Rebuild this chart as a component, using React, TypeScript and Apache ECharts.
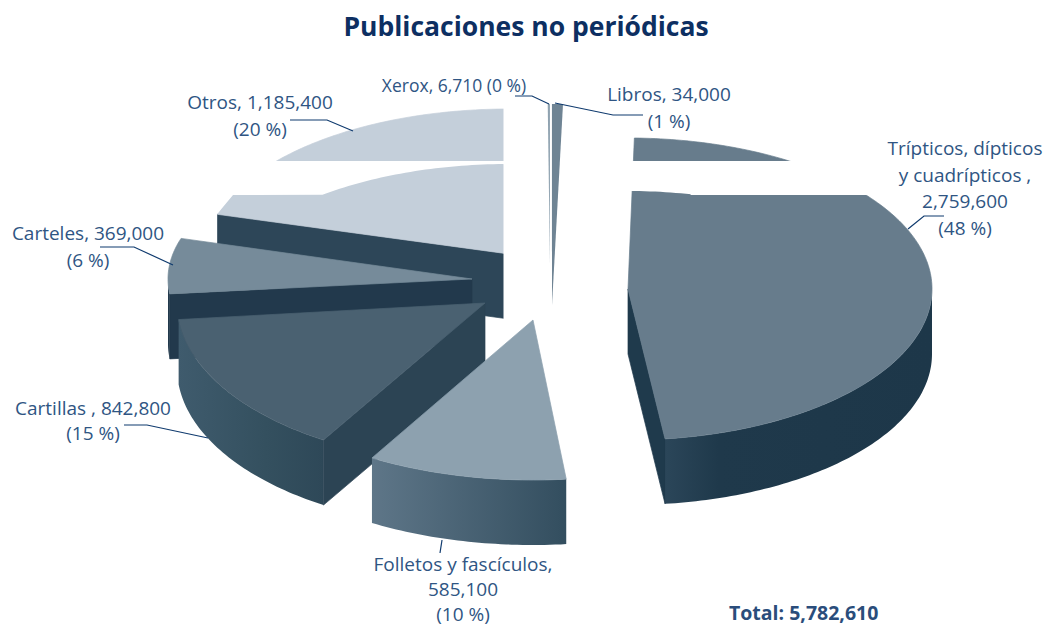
import React, { useEffect, useRef } from "react";
import * as echarts from "echarts";

// ---- Data ----
const categories = ["Trípticos, dípticos y cuadrípticos", "Folletos y fascículos", "Cartillas", "Carteles", "Otros", "Xerox", "Libros"];
const values = [2759600, 585100, 842800, 369000, 1185400, 6710, 34000];
const labelTexts = [
  "Trípticos, dípticos\ny cuadrípticos ,\n2,759,600\n(48 %)",
  "Folletos y fascículos,\n585,100\n(10 %)",
  "Cartillas , 842,800\n(15 %)",
  "Carteles, 369,000\n(6 %)",
  "Otros, 1,185,400\n(20 %)",
  "Xerox, 6,710 (0 %)",
  "Libros, 34,000\n(1 %)",
];
const titleText = "Publicaciones no periódicas";
const totalText = "Total: 5,782,610";

// ---- Layout and style, by category index ----
const START_ANGLE = 1.2;
const DEPTH = 65;
const NAVY = "#0f3a6e";
const LABEL = "#2f5583";
const FONT = "Open Sans";
type Stop = { offset: number; color: string };
type G = string | { type: string; x: number; y: number; x2: number; y2: number; colorStops: Stop[] };
const grad = (...colors: [number, string][]): G => ({
  type: "linear", x: 0, y: 0, x2: 1, y2: 0,
  colorStops: colors.map(([offset, color]) => ({ offset, color })),
});
const layout = [
  { cx: 628, cy: 289, rx: 304, ry: 151, spin: 0, sliver: false, top: "#677c8c", radial: "#1f3a4c", arc: grad([0, "#2b4659"], [0.2, "#1f394b"], [1, "#1d3749"]) },
  { cx: 533, cy: 320, rx: 318, ry: 160, spin: 1, sliver: false, top: "#8da1af", radial: "#334e5f", arc: grad([0, "#5e7688"], [1, "#334e5f"]) },
  { cx: 485, cy: 303, rx: 308, ry: 161, spin: 2.2, sliver: false, top: "#4a6171", radial: "#2c4454", arc: grad([0, "#3f5b6d"], [0.6, "#34505f"], [1, "#2e4858"]) },
  { cx: 472, cy: 279, rx: 304, ry: 140, spin: 2, sliver: false, top: "#768b9a", radial: "#22394c", arc: "#22394c" as G },
  { cx: 509, cy: 254, rx: 303, ry: 145, spin: 1, sliver: false, top: "#c4cfda", radial: "#2d4658", arc: "#2d4658" as G },
  { cx: 550, cy: 265, rx: 300, ry: 161, spin: 0.9, sliver: true, top: "#8fa2b0", radial: "#2d4658", arc: "#2d4658" as G },
  { cx: 552, cy: 305, rx: 300, ry: 201, spin: 0.9, sliver: true, top: "#6f8494", radial: "#3a5465", arc: "#3a5465" as G },
];
const drawOrder = [4, 5, 6, 3, 2, 0, 1];
const labelPos = [
  { x: 965, y: 135, size: 19, lh: 26.5 },
  { x: 463, y: 551, size: 19, lh: 25 },
  { x: 93, y: 395, size: 19, lh: 25.5 },
  { x: 88, y: 220, size: 19, lh: 26.5 },
  { x: 260, y: 89, size: 19, lh: 26.5 },
  { x: 454, y: 72, size: 17.5, lh: 26.5 },
  { x: 669, y: 81, size: 19, lh: 26.5 },
];
const leaders = [
  [[908, 229], [924, 216], [944, 216]],
  [[442, 540], [440, 553]],
  [[124, 425], [147, 425], [208, 438]],
  [[100, 247], [134, 247], [173, 265]],
  [[290, 120], [327, 120], [353, 131]],
  [[515, 96], [532, 96], [549, 104]],
  [[555, 103], [613, 115], [643, 115]],
];

const total = values.reduce((a, b) => a + b, 0);
const spans: [number, number][] = [];
{
  let a = START_ANGLE;
  for (const v of values) {
    const next = a + (v / total) * 360;
    spans.push([a, next]);
    a = next;
  }
}
const rim = (l: { cx: number; cy: number; rx: number; ry: number }, deg: number, dy = 0): [number, number] => {
  const r = (deg * Math.PI) / 180;
  return [l.cx + l.rx * Math.sin(r), l.cy - l.ry * Math.cos(r) + dy];
};
const arcPts = (l: any, a: number, b: number, dy = 0) => {
  const n = Math.max(2, Math.ceil(Math.abs(b - a)));
  const out: [number, number][] = [];
  for (let i = 0; i <= n; i++) out.push(rim(l, a + ((b - a) * i) / n, dy));
  return out;
};

const renderItem = (params: any, api: any) => {
  const idx = api.value(1) as number;
  const l = layout[idx];
  const a1 = spans[idx][0] + l.spin;
  const a2 = spans[idx][1] + l.spin;
  const children: any[] = [];
  const poly = (points: number[][], fill: G, stroke = "none") => ({
    type: "polygon",
    shape: { points },
    style: { fill, stroke, lineWidth: 0.7 },
  });
  if (!l.sliver) {
    // outer wall: only the part that faces the viewer
    const w1 = Math.max(a1, 90);
    const w2 = Math.min(a2, 270);
    if (w2 > w1) {
      const topEdge = arcPts(l, w1, w2);
      const bottomEdge = arcPts(l, w1, w2, DEPTH).reverse();
      children.push(poly([...topEdge, ...bottomEdge], l.arc));
    }
    const radial = (deg: number) => {
      const p = rim(l, deg);
      children.push(poly([[l.cx, l.cy], p, [p[0], p[1] + DEPTH], [l.cx, l.cy + DEPTH]], l.radial, l.radial));
    };
    if (a1 > 180 && a1 < 360) radial(a1);
    if (a2 > 0 && a2 < 180) radial(a2);
  }
  children.push(poly([[l.cx, l.cy], ...arcPts(l, a1, a2)], l.top, l.sliver ? "none" : l.top));
  return { type: "group", children };
};

// White gaps that cross the Otros and Trípticos slices
const otrosMask = (): number[][] => {
  const l = layout[4];
  const pts = arcPts(l, 322, 359, 55);
  return [[512, 161], [205, 161], [205, 216], [218, 213], [233, 195], ...pts, [504, 165], [512, 165]];
};
const tripticosMask = (): number[][] => {
  const l = layout[0];
  const pts = arcPts(l, 1.2, 12, 53).map(([x, y]) => [x, Math.min(y, 195)]);
  return [[620, 161], [880, 161], [880, 195], [690, 195], ...pts.reverse(), [620, 191]];
};

export default function App() {
  const ref = useRef<HTMLDivElement>(null);
  useEffect(() => {
    const chart = echarts.init(ref.current!, undefined, { renderer: "svg" });
    const white = "#ffffff";
    chart.setOption({
      animation: false,
      backgroundColor: white,
      title: {
        text: titleText,
        left: 521,
        top: 7,
        textAlign: "center",
        textStyle: { fontFamily: "Open Sans", fontWeight: "bold", fontSize: 26.5, color: "#0d2f62" },
      },
      series: [
        {
          type: "custom",
          coordinateSystem: "none",
          silent: true,
          z: 2,
          clip: false,
          data: drawOrder.map((i) => ({ name: categories[i], value: [values[i], i] })),
          encode: { value: 0 },
          renderItem,
        },
      ],
      graphic: {
        elements: [
          { type: "polygon", z: 10, silent: true, shape: { points: otrosMask() }, style: { fill: white } },
          { type: "polygon", z: 10, silent: true, shape: { points: tripticosMask() }, style: { fill: white } },
          { type: "rect", z: 10, silent: true, shape: { x: 503.5, y: 100, width: 9, height: 225 }, style: { fill: white } },
          ...leaders.map((points) => ({
            type: "polyline",
            z: 20,
            silent: true,
            shape: { points },
            style: { stroke: NAVY, lineWidth: 1.2, fill: "none" },
          })),
          ...labelTexts.map((text, i) => ({
            type: "text",
            z: 30,
            silent: true,
            x: labelPos[i].x,
            y: labelPos[i].y,
            style: {
              text,
              fill: LABEL,
              fontFamily: FONT,
              fontSize: labelPos[i].size,
              lineHeight: labelPos[i].lh,
              align: "center",
              verticalAlign: "top",
            },
          })),
          {
            type: "text",
            z: 30,
            silent: true,
            x: 729,
            y: 602,
            style: { text: totalText, fill: "#2a4d7b", fontFamily: "Open Sans", fontWeight: "bold", fontSize: 19.5, align: "left", verticalAlign: "top" },
          },
        ],
      },
    });
    return () => chart.dispose();
  }, []);
  return <div ref={ref} style={{ position: "fixed", left: 0, top: 0, width: 1044, height: 626 }} />;
}
